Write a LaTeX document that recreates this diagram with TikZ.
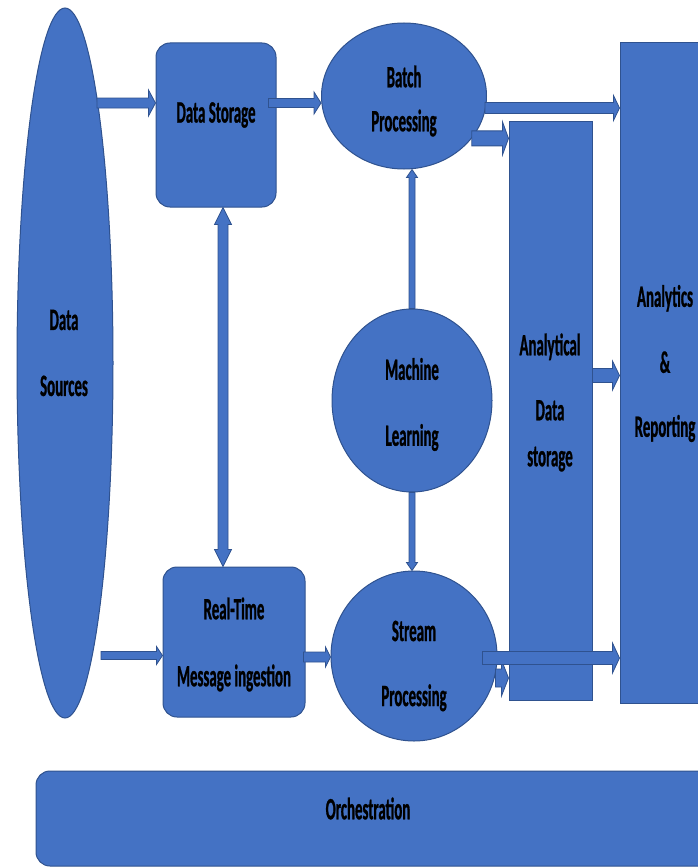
\documentclass[tikz,border=0pt]{standalone}
\usepackage{fontspec}
\newfontfamily\boxfont[FakeStretch=0.48,BoldFeatures={FakeBold=0.8}]{Carlito}
\usetikzlibrary{calc,shapes.geometric}
\definecolor{boxblue}{HTML}{4472C4}
\definecolor{lineblue}{HTML}{2F528F}
\begin{document}
\begin{tikzpicture}[x=1pt,y=-1pt,
  box/.style={draw=lineblue,fill=boxblue,line width=1pt,inner sep=0pt},
  oval/.style={box,ellipse},
  rbox/.style={box,rounded corners=14pt},
  txt/.style={inner sep=0pt,align=center,font=\boxfont\bfseries\fontsize{31}{#1}\selectfont},
  txt/.default=66,
  sw/.store in=\arrshaft, hw/.store in=\arrhead, hl/.store in=\arrlen,
  barrow/.style={draw=lineblue,fill=boxblue,line width=0.8pt,
    to path={let \p1=(\tikztostart),\p2=(\tikztotarget),\p3=($(\p2)!\arrlen!(\p1)$) in
      ($(\p1)!\arrshaft!90:(\p2)$) -- ($(\p3)!\arrshaft!90:(\p2)$)
      -- ($(\p3)!\arrhead!90:(\p2)$) -- (\p2) -- ($(\p3)!\arrhead!-90:(\p2)$)
      -- ($(\p3)!\arrshaft!-90:(\p2)$) -- ($(\p1)!\arrshaft!-90:(\p2)$) -- cycle}},
  dbarrow/.style={draw=lineblue,fill=boxblue,line width=0.8pt,
    to path={let \p1=(\tikztostart),\p2=(\tikztotarget),\p3=($(\p2)!\arrlen!(\p1)$),
      \p4=($(\p1)!\arrlen!(\p2)$) in
      (\p1) -- ($(\p4)!\arrhead!90:(\p2)$) -- ($(\p4)!\arrshaft!90:(\p2)$)
      -- ($(\p3)!\arrshaft!90:(\p2)$) -- ($(\p3)!\arrhead!90:(\p2)$) -- (\p2)
      -- ($(\p3)!\arrhead!-90:(\p2)$) -- ($(\p3)!\arrshaft!-90:(\p2)$)
      -- ($(\p4)!\arrshaft!-90:(\p2)$) -- ($(\p4)!\arrhead!-90:(\p2)$) -- cycle}}]
   \useasboundingbox (0,0) rectangle (697,867);

   % ブロック
   \node[oval,minimum width=96pt,minimum height=710pt] (srcs) at (65,363) {};
   \node[rbox,minimum width=120pt,minimum height=164pt] (store) at (216,125) {};
   \node[oval,minimum width=165pt,minimum height=146pt] (batch) at (404,96) {};
   \node[oval,minimum width=160pt,minimum height=183pt] (ml) at (412,400.5) {};
   \node[oval,minimum width=166pt,minimum height=170pt] (stream) at (414,656) {};
   \node[rbox,minimum width=142pt,minimum height=150pt] (rt) at (234,642) {};
   \node[box,minimum width=83pt,minimum height=579pt] (astore) at (550.5,410.5) {};
   \node[box,minimum width=90pt,minimum height=660pt] (report) at (665,373) {};
   \node[rbox,minimum width=684pt,minimum height=95pt] (orch) at (378,818.5) {};

   % 文字
   \node[txt] (srcs-t) at (64,353) {Data\\Sources};
   \node[txt] (store-t) at (216,115) {Data Storage};
   \node[txt=44] (batch-t) at (404,101) {Batch\\Processing};
   \node[txt] (ml-t) at (412,404.5) {Machine\\Learning};
   \node[txt=65] (stream-t) at (414,666) {Stream\\Processing};
   \node[txt=67] (rt-t) at (234,644.5) {Real-Time\\Message ingestion};
   \node[txt=65] (astore-t) at (550,402.5) {Analytical\\Data\\[-19pt]storage};
   \node[txt] (report-t) at (665,363.5) {Analytics\\\&\\[-2pt]Reporting};
   \node[txt] (orch-t) at (368,808.5) {Orchestration};

   % 矢印
   \coordinate (s1) at (97,103);
   \coordinate (s2) at (101,655.5);
   \draw[barrow,sw=5pt,hw=13pt,hl=7pt] (s1) to (s1 -| store.west);
   \draw[barrow,sw=4.5pt,hw=11pt,hl=7pt] ([xshift=-8pt,yshift=22pt]store.east) to ([yshift=22pt]store.east -| batch.west);
   \draw[barrow,sw=5.5pt,hw=12.5pt,hl=6pt] ([xshift=-2pt,yshift=-12pt]batch.east) to ([yshift=-12pt]batch.east -| report.west);
   \draw[barrow,sw=7.5pt,hw=16.5pt,hl=6pt] (batch.-32) to (batch.-32 -| astore.west);
   \draw[dbarrow,sw=5pt,hw=8.5pt,hl=17pt] ([xshift=7pt]store.south) to ([xshift=7pt]store.south |- rt.north);
   \draw[barrow,sw=3pt,hw=5.5pt,hl=8pt] (ml.north) to (ml.north |- batch.south);
   \draw[barrow,sw=3pt,hw=5.5pt,hl=8pt] (ml.south) to (ml.south |- stream.north);
   \draw[barrow,sw=4pt,hw=9pt,hl=6pt] (s2) to (s2 -| rt.west);
   \draw[barrow,sw=5pt,hw=10pt,hl=5pt] ([xshift=-2pt,yshift=-15pt]rt.east) to ([yshift=-15pt]rt.east -| stream.west);
   \draw[barrow,sw=9pt,hw=18pt,hl=7pt] ([xshift=-2pt,yshift=-22pt]stream.east) to ([yshift=-22pt]stream.east -| astore.west);
   \draw[barrow,sw=6.5pt,hw=15pt,hl=7pt] ([xshift=-15pt,yshift=-2pt]stream.east) to ([yshift=-2pt]stream.east -| report.west);
   \draw[barrow,sw=7pt,hw=14.5pt,hl=7pt] ([yshift=35pt]astore.east) to ([yshift=35pt]astore.east -| report.west);
\end{tikzpicture}
\end{document}
